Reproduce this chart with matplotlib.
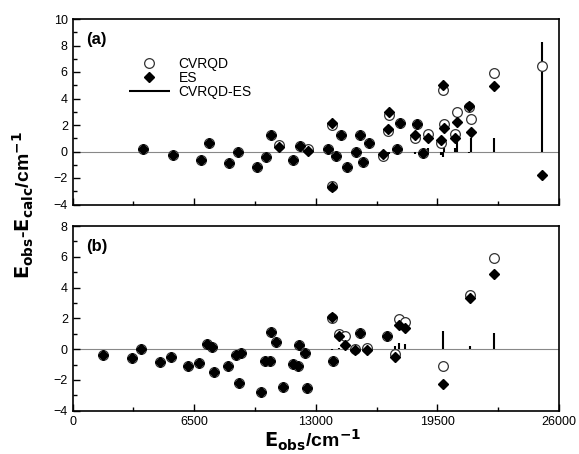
import matplotlib
matplotlib.use("Agg")
import matplotlib.pyplot as plt
from matplotlib.ticker import MultipleLocator
import numpy as np

plt.rcParams['font.family'] = ['Liberation Sans', 'DejaVu Sans']

# Panel (a)
a_x = [3775, 5346, 6876, 7271, 8373, 8820, 9837, 10318, 10602, 11014, 11795, 12135, 12563,
       13667, 13847, 13847, 14077, 14329, 14683, 15131, 15360, 15537, 15858, 16590, 16857,
       16893, 17320, 17496, 18301, 18390, 18747, 18980, 19675, 19782, 19852, 20460, 20531,
       21204, 21310, 22540, 25107]
a_cvrqd = [0.21, -0.26, -0.64, 0.62, -0.90, 0.00, -1.15, -0.39, 1.25, 0.49, -0.64, 0.44, 0.16,
           0.19, 2.00, -2.58, -0.34, 1.25, -1.20, -0.01, 1.25, -0.79, 0.62, -0.31, 1.55,
           2.75, 0.19, 2.17, 1.04, 2.07, -0.14, 1.30, 0.62, 4.64, 2.07, 1.30, 3.00,
           3.38, 2.45, 5.95, 6.48]
a_es = [0.21, -0.26, -0.64, 0.62, -0.90, 0.00, -1.15, -0.39, 1.25, 0.32, -0.64, 0.44, 0.02,
        0.19, 2.13, -2.65, -0.36, 1.25, -1.20, -0.01, 1.25, -0.79, 0.62, -0.19, 1.67,
        2.96, 0.19, 2.17, 1.25, 2.07, -0.14, 1.04, 0.87, 5.02, 1.80, 1.04, 2.25,
        3.46, 1.45, 4.94, -1.80]

# Panel (b)
b_x = [1604, 3154, 3652, 4667, 5255, 6148, 6769, 7196, 7463, 7554, 8287, 8731, 8891, 9014,
       10067, 10265, 10532, 10586, 10869, 11260, 11762, 12029, 12115, 12420, 12543,
       13847, 13934, 14220, 14559, 15111, 15360, 15760, 16823, 17250, 17464, 17769,
       19798, 21241, 22540]
b_cvrqd = [-0.36, -0.60, 0.00, -0.81, -0.53, -1.09, -0.88, 0.34, 0.16, -1.46, -1.11, -0.36, -2.22, -0.27,
           -2.76, -0.75, -0.75, 1.09, 0.44, -2.44, -0.96, -1.07, 0.27, -0.23, -2.52,
           2.00, -0.75, 0.98, 0.88, -0.02, 1.05, 0.08, 0.86, -0.31, 1.96, 1.74,
           -1.07, 3.54, 5.92]
b_es = [-0.36, -0.60, 0.00, -0.81, -0.53, -1.09, -0.88, 0.34, 0.16, -1.46, -1.11, -0.36, -2.22, -0.27,
        -2.76, -0.75, -0.75, 1.09, 0.44, -2.44, -0.96, -1.07, 0.27, -0.23, -2.52,
        2.08, -0.75, 0.88, 0.29, -0.04, 1.05, -0.05, 0.86, -0.53, 1.57, 1.38,
        -2.26, 3.32, 4.88]

x_ticks = [0, 6500, 13000, 19500, 26000]

W, H = 579, 454
fig = plt.figure(figsize=(W / 100, H / 100), dpi=100)
left = 72.7 / W
width = 486.3 / W
ax1 = fig.add_axes([left, 1 - 204.5 / H, width, 185.5 / H])
ax2 = fig.add_axes([left, 1 - 410.7 / H, width, 184.7 / H])


def draw(ax, x, c, e, ylim, label, legend):
    x = np.array(x); c = np.array(c); e = np.array(e)
    ax.axhline(0, color='#888888', lw=0.8, zorder=1)
    d = c - e
    ax.vlines(x, 0, d, color='black', lw=1.5, zorder=2, label='CVRQD-ES')
    ax.plot(x, c, ls='none', marker='o', ms=7, mfc='white', mec='#333333', mew=0.9,
            zorder=3, label='CVRQD')
    ax.plot(x, e, ls='none', marker='D', ms=5.5, mfc='black', mec='black', zorder=4, label='ES')
    ax.set_xlim(0, 26000)
    ax.set_ylim(*ylim)
    ax.xaxis.set_major_locator(MultipleLocator(6500))
    ax.xaxis.set_minor_locator(MultipleLocator(3250))
    ax.yaxis.set_major_locator(MultipleLocator(2))
    ax.yaxis.set_minor_locator(MultipleLocator(1))
    ax.tick_params(which='both', direction='in', labelsize=9, width=1)
    ax.tick_params(which='major', length=5)
    ax.tick_params(which='minor', length=3)
    for s in ax.spines.values():
        s.set_linewidth(1.2)
    ax.text(0.027, 0.887, label, transform=ax.transAxes, fontsize=12, fontweight='bold',
            va='center', ha='left')
    if legend:
        h, l = ax.get_legend_handles_labels()
        order = [1, 2, 0]
        ax.legend([h[i] for i in order], [l[i] for i in order], loc='upper left',
                  bbox_to_anchor=(0.095, 0.85), frameon=False, fontsize=10,
                  handlelength=3.0, handletextpad=0.6, labelspacing=0.02, borderpad=0.2)


draw(ax1, a_x, a_cvrqd, a_es, (-4, 10), '(a)', True)
draw(ax2, b_x, b_cvrqd, b_es, (-4, 8), '(b)', False)
ax1.set_xticks(x_ticks)
ax1.set_xticklabels([])
ax2.set_xticks(x_ticks)
ax2.set_xticklabels([str(t) for t in x_ticks])

fig.text(23 / W, 1 - 205 / H, r'$\mathbf{E_{obs}}$-$\mathbf{E_{calc}}$/cm$^{\mathbf{-1}}$',
         rotation=90, ha='center', va='center', fontsize=14, fontweight='bold')
fig.text(313 / W, 1 - 440 / H, r'$\mathbf{E_{obs}}$/cm$^{\mathbf{-1}}$',
         ha='center', va='center', fontsize=14, fontweight='bold')

fig.savefig('out.png', dpi=100)
